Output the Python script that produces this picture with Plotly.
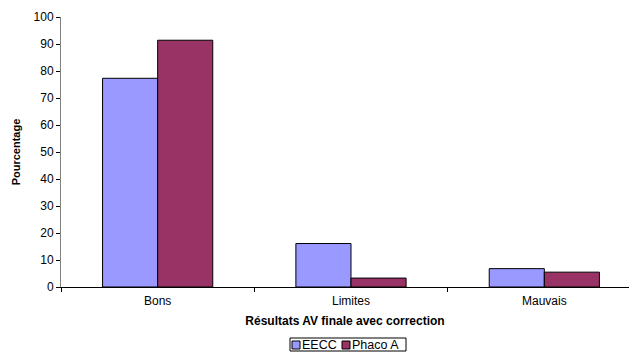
import plotly.graph_objects as go

categories = ["Bons", "Limites", "Mauvais"]
series_names = ["EECC", "Phaco A"]
eecc = [77.3, 16.1, 6.8]
phaco = [91.4, 3.3, 5.5]
y_ticks = [0, 10, 20, 30, 40, 50, 60, 70, 80, 90, 100]
colors = ["#9999FF", "#993366"]

W, H = 629, 352
L, R, T, B = 61, 0, 17, 65
pw, ph = W - L - R, H - T - B


def px(x):
    return (x - L) / pw


def py(y):
    return (H - B - y) / ph


font = dict(family="Liberation Sans, Arial, sans-serif", size=12, color="black")

fig = go.Figure()
for name, vals, col in zip(series_names, [eecc, phaco], colors):
    fig.add_trace(go.Bar(name=name, x=categories, y=vals, showlegend=False,
                         marker=dict(color=col, line=dict(color="black", width=1))))

# legend drawn as a compact box like the original
shapes = [dict(type="rect", xref="paper", yref="paper",
               x0=px(290), x1=px(406), y0=py(351), y1=py(338),
               line=dict(color="black", width=1), fillcolor="white")]
annotations = []
entry_x = [292, 342]
for ex, name, col in zip(entry_x, series_names, colors):
    shapes.append(dict(type="rect", xref="paper", yref="paper",
                       x0=px(ex), x1=px(ex + 8), y0=py(349), y1=py(341),
                       line=dict(color="black", width=1), fillcolor=col))
    annotations.append(dict(text=name, xref="paper", yref="paper",
                            x=px(ex + 9), y=py(345), xanchor="left", yanchor="middle",
                            showarrow=False, borderpad=0, font=dict(size=12.5)))

fig.update_layout(
    width=W, height=H,
    margin=dict(l=L, r=R, t=T, b=B, autoexpand=False),
    paper_bgcolor="white", plot_bgcolor="white",
    font=font,
    barmode="group", bargap=0.43, bargroupgap=0,
    shapes=shapes, annotations=annotations,
    xaxis=dict(range=[-0.5, 2.438], showline=True, linecolor="black", linewidth=1,
               ticks="outside", tickson="boundaries", ticklen=4, tickcolor="black",
               showgrid=False, tickfont=dict(size=12), automargin=True,
               ticklabelstandoff=3,
               title=dict(text="<b>Résultats AV finale avec correction</b>",
                          font=dict(size=12), standoff=9)),
    yaxis=dict(range=[0, 100], tickvals=y_ticks, showline=True, linecolor="#808080",
               linewidth=1, ticks="outside", ticklen=4, tickcolor="black",
               showgrid=False, zeroline=False, tickfont=dict(size=12), automargin=False,
               title=dict(text="<b>Pourcentage</b>", font=dict(size=11), standoff=10)),
)

fig.write_html("out.html", config={"displayModeBar": False},
               post_script="document.body.style.margin='0';document.body.style.padding='0';")
